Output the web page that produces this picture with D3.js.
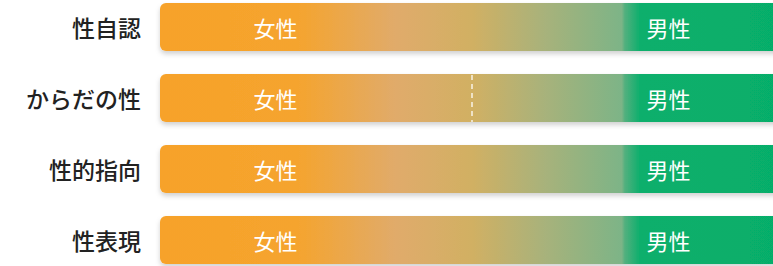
<!DOCTYPE html>
<html><head><meta charset="utf-8">
<script src="https://cdn.jsdelivr.net/npm/d3@7/dist/d3.min.js"></script>
<style>
html,body{margin:0;padding:0;background:#fff;overflow:hidden;}
svg{display:block;}
</style></head>
<body>
<svg id="chart" width="773" height="266"></svg>
<script>
// ---- data ----
const categories = ["性自認", "からだの性", "性的指向", "性表現"];
const leftLabel = ["女性", "女性", "女性", "女性"];
const rightLabel = ["男性", "男性", "男性", "男性"];
const leftLabelPos = [0.185, 0.185, 0.185, 0.185];
const rightLabelPos = [0.815, 0.815, 0.815, 0.815];
const midMarker = [null, 0.5, null, null];

// ---- styles ----
const gradStops = [
  [0.00, "#F7A22A"], [0.22, "#F5A42E"], [0.38, "#E0AB6B"], [0.50, "#D1B063"],
  [0.61, "#AAB27A"], [0.74, "#7DB487"], [0.745, "#52B07E"], [0.77, "#0AAF6C"], [1.00, "#06AE6A"]
];

const svg = d3.select("#chart");
const x = d3.scaleLinear().domain([0, 1]).range([160, 784]);
const y = d3.scaleBand().domain(categories).range([3, 264]).paddingInner(23 / 71).paddingOuter(0);

const defs = svg.append("defs");
const g = defs.append("linearGradient").attr("id", "grad")
  .attr("gradientUnits", "userSpaceOnUse")
  .attr("x1", x(0)).attr("x2", x(1)).attr("y1", 0).attr("y2", 0);
g.selectAll("stop").data(gradStops).join("stop")
  .attr("offset", d => d[0]).attr("stop-color", d => d[1]);
const f = defs.append("filter").attr("id", "sh").attr("x", "-5%").attr("y", "-30%").attr("width", "110%").attr("height", "170%");
f.append("feDropShadow").attr("dx", 0).attr("dy", 3).attr("stdDeviation", 2.5)
  .attr("flood-color", "#000").attr("flood-opacity", 0.18);

const rows = svg.selectAll("g.row").data(categories).join("g").attr("class", "row");

rows.append("rect")
  .attr("x", x(0)).attr("y", d => y(d))
  .attr("width", x(1) - x(0)).attr("height", y.bandwidth())
  .attr("rx", 6).attr("fill", "url(#grad)").attr("filter", "url(#sh)");

rows.append("text")
  .attr("x", 141).attr("y", d => y(d) + y.bandwidth() / 2)
  .attr("text-anchor", "end").attr("dominant-baseline", "central")
  .attr("font-family", "'Noto Sans CJK JP', 'Noto Sans', sans-serif")
  .attr("font-size", 23).attr("font-weight", 500).attr("fill", "#222")
  .text(d => d);

rows.append("text")
  .attr("x", (d, i) => x(leftLabelPos[i])).attr("y", d => y(d) + y.bandwidth() / 2)
  .attr("text-anchor", "middle").attr("dominant-baseline", "central")
  .attr("font-family", "'Noto Sans CJK JP', 'Noto Sans', sans-serif")
  .attr("font-size", 22).attr("font-weight", 400).attr("fill", "#fff")
  .text((d, i) => leftLabel[i]);

rows.append("text")
  .attr("x", (d, i) => x(rightLabelPos[i])).attr("y", d => y(d) + y.bandwidth() / 2)
  .attr("text-anchor", "middle").attr("dominant-baseline", "central")
  .attr("font-family", "'Noto Sans CJK JP', 'Noto Sans', sans-serif")
  .attr("font-size", 22).attr("font-weight", 400).attr("fill", "#fff")
  .text((d, i) => rightLabel[i]);

rows.filter((d, i) => midMarker[i] != null).append("line")
  .attr("x1", d => x(midMarker[categories.indexOf(d)]) ).attr("x2", d => x(midMarker[categories.indexOf(d)]))
  .attr("y1", d => y(d) + 1).attr("y2", d => y(d) + y.bandwidth())
  .attr("stroke", "rgba(255,255,255,0.85)").attr("stroke-width", 1.5)
  .attr("stroke-dasharray", "5,4");
</script>
</body></html>
